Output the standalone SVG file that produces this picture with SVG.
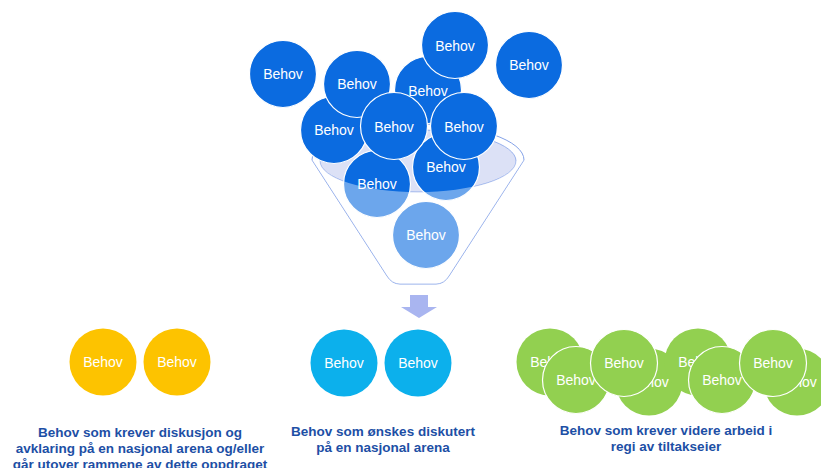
<svg xmlns="http://www.w3.org/2000/svg" width="821" height="468" viewBox="0 0 821 468">
  <style>
    .t { font-family: "Liberation Sans", Arial, sans-serif; font-size: 14px; fill: #ffffff; text-anchor: middle; }
    .lbl { font-family: "Liberation Sans", Arial, sans-serif; font-size: 13.5px; font-weight: bold; fill: #1d4fa5; text-anchor: middle; }
    .blue { fill: #0b6be0; stroke: #ffffff; stroke-width: 1.2; }
    .yellow { fill: #fdc300; }
    .cyan { fill: #0cb0ec; }
    .green { fill: #92d050; }
    .greenF { fill: #92d050; stroke: #ffffff; stroke-width: 1.2; }
  </style>
  <rect width="821" height="468" fill="#ffffff"/>

  <!-- funnel back: rim and inner opening -->
  <g id="funnel">
    <path d="M312,160 A106,36 0 0 1 524,160 L449,276 Q444,284 436,284 L400,284 Q392,284 387,276 Z" fill="none" stroke="#84a2e8" stroke-width="1"/>
    <ellipse cx="418" cy="161" rx="98" ry="31" fill="#dce1f6" stroke="#84a2e8" stroke-width="0.8"/>
  </g>

  <!-- needs inside the funnel -->
  <g id="n9"><circle class="blue" cx="446" cy="167" r="33.5"/><text class="t" x="446" y="172">Behov</text></g>
  <g id="n10"><circle class="blue" cx="377" cy="184" r="33.5"/><text class="t" x="377" y="189">Behov</text></g>
  <g id="n11"><circle class="blue" cx="426" cy="235" r="33.5" stroke="none"/><text class="t" x="426" y="240">Behov</text></g>

  <!-- translucent front of the funnel cone -->
  <path id="funnel-front" d="M312,160 L387,276 Q392,284 400,284 L436,284 Q444,284 449,276 L524,160 L516,161 A98,31 0 0 1 320,161 Z" fill="#ffffff" fill-opacity="0.4"/>

  <!-- needs above the funnel -->
  <g id="n1"><circle class="blue" cx="283" cy="74" r="33.5"/><text class="t" x="283" y="79">Behov</text></g>
  <g id="n5"><circle class="blue" cx="529" cy="65" r="33.5"/><text class="t" x="529" y="70">Behov</text></g>
  <g id="n6"><circle class="blue" cx="334" cy="130" r="33.5"/><text class="t" x="334" y="135">Behov</text></g>
  <g id="n3"><circle class="blue" cx="428" cy="90" r="33.5"/><text class="t" x="428" y="96">Behov</text></g>
  <g id="n2"><circle class="blue" cx="357" cy="84" r="33.5"/><text class="t" x="357" y="89">Behov</text></g>
  <g id="n7"><circle class="blue" cx="394" cy="126" r="33.5"/><text class="t" x="394" y="132">Behov</text></g>
  <g id="n4"><circle class="blue" cx="455" cy="45" r="33.5"/><text class="t" x="455" y="51">Behov</text></g>
  <g id="n8"><circle class="blue" cx="464" cy="126" r="33.5"/><text class="t" x="464" y="132">Behov</text></g>

  <!-- sorting arrow -->
  <g id="connectors">
    <path d="M410,295 H428 V307 H437 L419,318 L401,307 H410 Z" fill="#a9b5f0"/>
  </g>

  <!-- group: national arena / beyond scope -->
  <g id="yellow-group">
    <circle class="yellow" cx="103" cy="362" r="33.5"/><text class="t" x="103" y="367">Behov</text>
    <circle class="yellow" cx="177" cy="362" r="33.5"/><text class="t" x="177" y="367">Behov</text>
    <text class="lbl" x="140" y="437">Behov som krever diskusjon og</text>
    <text class="lbl" x="140" y="453">avklaring på en nasjonal arena og/eller</text>
    <text class="lbl" x="140" y="469">går utover rammene av dette oppdraget</text>
  </g>

  <!-- group: to be discussed nationally -->
  <g id="cyan-group">
    <circle class="cyan" cx="344" cy="363" r="33.5"/><text class="t" x="344" y="368">Behov</text>
    <circle class="cyan" cx="418" cy="363" r="33.5"/><text class="t" x="418" y="368">Behov</text>
    <text class="lbl" x="383" y="436">Behov som ønskes diskutert</text>
    <text class="lbl" x="383" y="452">på en nasjonal arena</text>
  </g>

  <!-- group: further work by the owner -->
  <g id="green-group">
    <circle class="green" cx="550" cy="362" r="33.5"/><text class="t" x="550" y="367">Behov</text>
    <circle class="green" cx="649" cy="382" r="33.5"/><text class="t" x="649" y="387">Behov</text>
    <circle class="green" cx="698" cy="362" r="33.5"/><text class="t" x="698" y="367">Behov</text>
    <circle class="green" cx="797" cy="382" r="33.5"/><text class="t" x="797" y="387">Behov</text>
    <circle class="greenF" cx="576" cy="380" r="33.5"/><text class="t" x="576" y="385">Behov</text>
    <circle class="greenF" cx="624" cy="363" r="33.5"/><text class="t" x="624" y="368">Behov</text>
    <circle class="greenF" cx="722" cy="380" r="33.5"/><text class="t" x="722" y="385">Behov</text>
    <circle class="greenF" cx="773" cy="363" r="33.5"/><text class="t" x="773" y="368">Behov</text>
    <text class="lbl" x="666" y="435">Behov som krever videre arbeid i</text>
    <text class="lbl" x="666" y="451">regi av tiltakseier</text>
  </g>
</svg>
